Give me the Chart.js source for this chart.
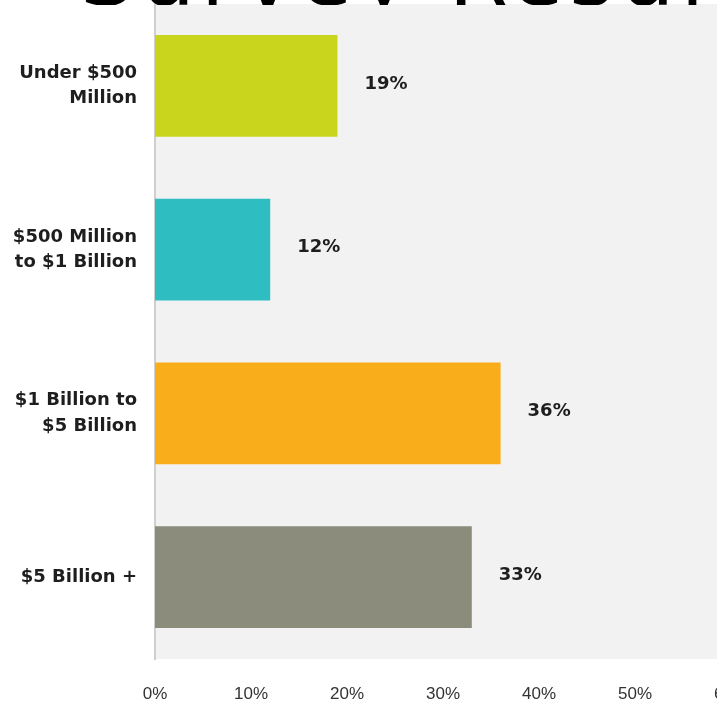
<!DOCTYPE html>
<html>
<head>
<meta charset="utf-8">
<script src="https://cdn.jsdelivr.net/npm/chart.js@4.4.1/dist/chart.umd.min.js"></script>
<style>
  html, body { margin: 0; padding: 0; background: #fff; overflow: hidden; }
  #wrap { position: relative; width: 717px; height: 708px; overflow: hidden; background: #fff; }
  #heading { position: absolute; left: 80px; top: 0; width: 700px; height: 5px; overflow: hidden; clip-path: inset(0 0 0 0); z-index: 2; }
  #heading span { position: absolute; left: 0; top: -68px; display: block; font-family: "DejaVu Sans", sans-serif; font-size: 86px; line-height: 86px; color: #000; white-space: nowrap; letter-spacing: 6px; }
  #revenue { position: absolute; left: 0; top: 0; }
</style>
</head>
<body>
<div id="wrap">
  <div id="heading"><span>Survey Results</span></div>
  <canvas id="revenue" width="745" height="708"></canvas>
</div>
<script>
const sizeLabels = [
  ['Under $500', 'Million'],
  ['$500 Million', 'to $1 Billion'],
  ['$1 Billion to', '$5 Billion'],
  ['$5 Billion +']
];
const shares = [19, 12, 36, 33];
const barColors = ['#c9d51d', '#2ebdc0', '#f9ad1a', '#8b8c7c'];
const xTicks = [0, 10, 20, 30, 40, 50, 60];

// grey panel behind the bars
const panel = {
  id: 'panel',
  beforeDraw(chart) {
    const { ctx, chartArea: a } = chart;
    ctx.save();
    ctx.fillStyle = '#f2f2f2';
    ctx.fillRect(a.left, a.top, a.right - a.left, a.bottom - a.top);
    ctx.restore();
  }
};

// percentage written to the right of each bar
const valueLabels = {
  id: 'valueLabels',
  afterDatasetsDraw(chart) {
    const ctx = chart.ctx;
    const meta = chart.getDatasetMeta(0);
    ctx.save();
    ctx.font = 'bold 18px "DejaVu Sans", sans-serif';
    ctx.fillStyle = '#1e1e1e';
    ctx.textAlign = 'left';
    ctx.textBaseline = 'middle';
    meta.data.forEach((bar, i) => {
      ctx.fillText(shares[i] + '%', bar.x + 27, bar.y - 2);
    });
    ctx.restore();
  }
};

const ctx = document.getElementById('revenue');

new Chart(ctx, {
  type: 'bar',
  data: {
    labels: sizeLabels,
    datasets: [{
      data: shares,
      backgroundColor: barColors,
      borderWidth: 0,
      categoryPercentage: 1,
      barPercentage: 0.62
    }]
  },
  options: {
    indexAxis: 'y',
    responsive: false,
    animation: false,
    devicePixelRatio: 1,
    layout: { padding: { top: 4, right: 14, left: 0, bottom: 0 } },
    plugins: {
      legend: { display: false },
      tooltip: { enabled: false }
    },
    scales: {
      x: {
        min: 0,
        max: 60,
        afterBuildTicks(axis) {
          axis.ticks = xTicks.map(v => ({ value: v }));
        },
        afterFit(axis) {
          axis.height = 49;
          axis.paddingLeft = 0;
          axis.paddingRight = 0;
        },
        grid: { display: false, drawTicks: false },
        border: { display: false },
        ticks: {
          padding: 25,
          color: '#333',
          font: { family: '"Liberation Sans", Arial, sans-serif', size: 17 },
          callback: v => v + '%'
        }
      },
      y: {
        afterFit(axis) {
          axis.width = 155;
          axis.paddingTop = 0;
          axis.paddingBottom = 0;
        },
        grid: { display: false, drawTicks: false },
        border: { display: true, color: '#cfcfcf', width: 2 },
        ticks: {
          padding: 18,
          color: '#1e1e1e',
          font: { family: '"DejaVu Sans", sans-serif', size: 18, weight: 'bold', lineHeight: 1.4 }
        }
      }
    }
  },
  plugins: [panel, valueLabels]
});
</script>
</body>
</html>
